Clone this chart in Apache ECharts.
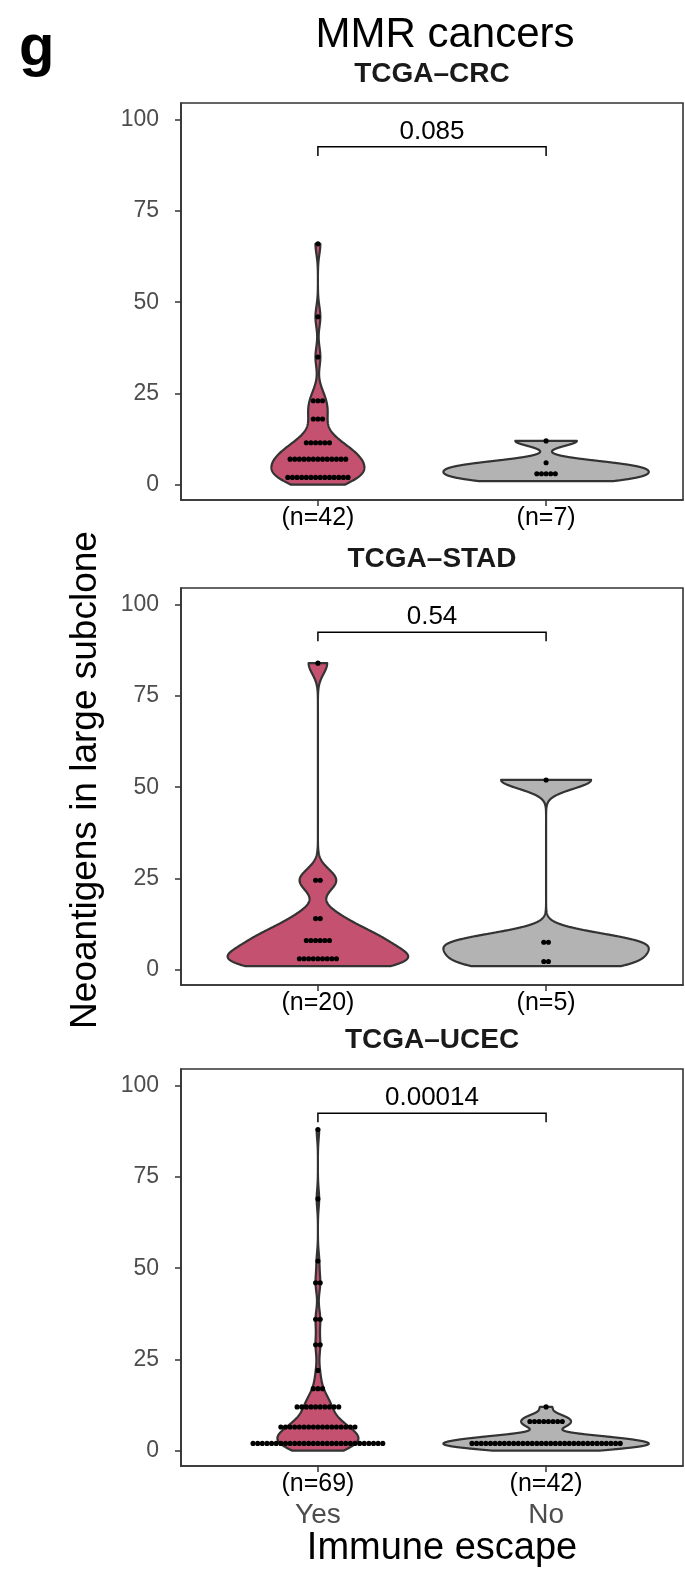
<!DOCTYPE html>
<html><head><meta charset="utf-8">
<script src="https://cdn.jsdelivr.net/npm/echarts@6/dist/echarts.min.js"></script>
<style>html,body{margin:0;padding:0;background:#fff}#c{width:685px;height:1577px}</style>
</head><body><div id="c"></div>
<script>
// ---------------- data ----------------
const categories = ['Yes', 'No'];
const panelTitles = ['TCGA\u2013CRC', 'TCGA\u2013STAD', 'TCGA\u2013UCEC'];
const pValues = ['0.085', '0.54', '0.00014'];
const yTicks = [0, 25, 50, 75, 100];
const bracketY = [92.6, 92.5, 92.5];
const bracketTip = [90.1, 90.0, 90.0];

const crcYes = [0,1,1,1,2,2,2,2,3,3,3,3,4,4, 5,5,6,6,6,7,7,7,8,8,8,9,9, 10,10,11,12,12,13, 16,18,20, 21,23,25, 35, 46, 66];
const crcNo = [1,2,3,4,5,6,12];
const stadYes = [1,1,2,2,2,3,3,4,5, 6,7,8,9,10,10, 13,15, 24,25, 84];
const stadNo = [1,3.5,6.5,8.5,52];
const ucecYes = [0,0,0, 1,1,1,1,1,1, 2,2,2,2,2,2,2,2, 3,3,3,3,3,3,3, 4,4,4,4,4,
  5,5,5,5,5, 6,6,6,6, 7,7,7,7, 8,8,8,8,
  10,10,11,11,12,12,13,13,14,14, 15,17,19, 22, 28,30, 35,37, 45,47, 52, 69, 88];
const ucecNo = [0,0,0,0, 1,1,1,1,1,1,1,1, 2,2,2,2,2,2,2,2,2, 3,3,3,3,3,3,3, 4,4,4,4,4,
  6,7,7,8,8,9,9,10, 12];

const panels = [[crcYes, crcNo], [stadYes, stadNo], [ucecYes, ucecNo]];

// ---------------- style / layout ----------------
const FONT = '"Liberation Sans", Arial, Helvetica, sans-serif';
const FILL = ['#C3516F', '#B3B3B3'];
const GRID_TOP = [103, 588, 1069];
const GRID_H = 397, GRID_LEFT = 181, GRID_W = 502;
const Y_MIN = -4.2, Y_MAX = 104.6;
const BINWIDTH = 5, DOT = 1.27;   // dotplot binning (data units)

// ---------------- helpers ----------------
function q7(s, p) { const h = (s.length - 1) * p, lo = Math.floor(h), hi = Math.ceil(h); return s[lo] + (h - lo) * (s[hi] - s[lo]); }
function bwNrd0(s) {
  const n = s.length, m = s.reduce((a, b) => a + b, 0) / n;
  const sd = Math.sqrt(s.reduce((a, b) => a + (b - m) * (b - m), 0) / (n - 1));
  let lo = Math.min(sd, (q7(s, 0.75) - q7(s, 0.25)) / 1.34);
  if (!(lo > 0)) lo = sd || Math.abs(s[0]) || 1;
  return 0.9 * lo * Math.pow(n, -0.2);
}
function kde(vals) {
  const s = vals.slice().sort((a, b) => a - b), bw = bwNrd0(s), n = s.length;
  const from = s[0], to = s[n - 1], N = 512, ys = [], ds = [];
  for (let k = 0; k < N; k++) {
    const y = from + (to - from) * k / (N - 1);
    let d = 0;
    for (const v of s) { const z = (y - v) / bw; d += Math.exp(-0.5 * z * z); }
    ys.push(y); ds.push(d / (n * bw * Math.sqrt(2 * Math.PI)));
  }
  return { y: ys, d: ds };
}
function dotBins(vals) {
  const s = vals.slice().sort((a, b) => a - b), bins = [];
  let end = -Infinity, cur = null;
  for (const v of s) { if (v >= end) { end = v + BINWIDTH; cur = []; bins.push(cur); } cur.push(v); }
  return bins.map(b => ({ c: (b[0] + b[b.length - 1]) / 2, n: b.length }));
}

const profiles = panels.map(groups => {
  const dens = groups.map(kde);
  const mx = Math.max(...dens.map(o => Math.max(...o.d)));
  return dens.map(o => ({ y: o.y, hw: o.d.map(d => 0.45 * d / mx) }));
});

const series = [], xAxis = [], yAxis = [], grid = [];
panels.forEach((groups, i) => {
  grid.push({ left: GRID_LEFT, top: GRID_TOP[i], width: GRID_W, height: GRID_H, show: true,
    borderColor: '#333333', borderWidth: 1.6, backgroundColor: '#fff' });
  const last = i === panels.length - 1;
  xAxis.push({
    type: 'value', gridIndex: i, min: 0.4, max: 2.6,
    splitLine: { show: false },
    axisLine: { show: true, onZero: false, lineStyle: { color: '#333333', width: 1.6 } },
    axisTick: { show: true, customValues: [1, 2], length: 6, lineStyle: { color: '#333333', width: 1.5 } },
    axisLabel: {
      customValues: [1, 2], margin: 5, fontFamily: FONT, color: '#000',
      formatter: v => {
        const g = Math.round(v) - 1; const t = '(n=' + groups[g].length + ')';
        return last ? '{n|' + t + '}\n{c|' + categories[g] + '}' : '{n|' + t + '}';
      },
      rich: {
        n: { fontSize: 25, color: '#000', fontFamily: FONT, lineHeight: 26 },
        c: { fontSize: 28, color: '#4D4D4D', fontFamily: FONT, lineHeight: 36 }
      }
    }
  });
  yAxis.push({
    type: 'value', gridIndex: i, min: Y_MIN, max: Y_MAX,
    splitLine: { show: false },
    axisLine: { show: true, onZero: false, lineStyle: { color: '#333333', width: 1.6 } },
    axisTick: { show: true, customValues: yTicks, length: 6, lineStyle: { color: '#333333', width: 1.5 } },
    axisLabel: { customValues: yTicks, margin: 22, fontSize: 23, color: '#4D4D4D', fontFamily: FONT }
  });
  // violins
  series.push({
    type: 'custom', xAxisIndex: i, yAxisIndex: i, silent: true,
    data: groups.map((g, k) => [k + 1, Math.min(...g), Math.max(...g)]),
    encode: { x: 0, y: [1, 2] },
    renderItem: (params, api) => {
      const p = profiles[i][params.dataIndex], xc = api.value(0), pts = [];
      for (let k = 0; k < p.y.length; k++) pts.push(api.coord([xc + p.hw[k], p.y[k]]));
      for (let k = p.y.length - 1; k >= 0; k--) pts.push(api.coord([xc - p.hw[k], p.y[k]]));
      return { type: 'polygon', shape: { points: pts },
        style: { fill: FILL[params.dataIndex], stroke: '#333333', lineWidth: 2.2, lineJoin: 'round' } };
    }
  });
  // dots
  const dots = [];
  groups.forEach((g, k) => dotBins(g).forEach(b => {
    for (let j = 0; j < b.n; j++) dots.push([k + 1, b.c, j - (b.n - 1) / 2]);
  }));
  series.push({
    type: 'custom', xAxisIndex: i, yAxisIndex: i, silent: true, data: dots,
    encode: { x: 0, y: 1 },
    renderItem: (params, api) => {
      const c = api.coord([api.value(0), api.value(1)]), d = api.size([0, DOT])[1];
      return { type: 'circle', shape: { cx: c[0] + api.value(2) * d, cy: c[1], r: d * 0.55 }, style: { fill: '#000' } };
    }
  });
  // significance bracket
  series.push({
    type: 'custom', xAxisIndex: i, yAxisIndex: i, silent: true,
    data: [[1, 2, bracketY[i], bracketTip[i]]],
    encode: { x: [0, 1], y: [2, 3] },
    renderItem: (params, api) => {
      const a = api.coord([api.value(0), api.value(3)]), b = api.coord([api.value(0), api.value(2)]);
      const c = api.coord([api.value(1), api.value(2)]), d = api.coord([api.value(1), api.value(3)]);
      return { type: 'group', children: [
        { type: 'polyline', shape: { points: [a, b, c, d] }, style: { stroke: '#000', lineWidth: 1.5, fill: null } },
        { type: 'text', x: (b[0] + c[0]) / 2, y: b[1] - 2,
          style: { text: pValues[i], fontSize: 26, fontFamily: FONT, fill: '#000', align: 'center', verticalAlign: 'bottom' } }
      ] };
    }
  });
});

const graphic = [
  { type: 'text', x: 19, y: 49, style: { text: 'g', fontSize: 58, fontWeight: 'bold', fontFamily: FONT, fill: '#000', align: 'left', verticalAlign: 'middle' } },
  { type: 'text', x: 445, y: 35, style: { text: 'MMR cancers', fontSize: 42, fontFamily: FONT, fill: '#000', align: 'center', verticalAlign: 'middle' } },
  { type: 'text', x: 86, y: 780, rotation: Math.PI / 2, style: { text: 'Neoantigens in large subclone', fontSize: 37, fontFamily: FONT, fill: '#000', align: 'center', verticalAlign: 'middle' } },
  { type: 'text', x: GRID_LEFT + GRID_W / 2 + 10, y: 1549, style: { text: 'Immune escape', fontSize: 38, fontFamily: FONT, fill: '#000', align: 'center', verticalAlign: 'middle' } }
];
panelTitles.forEach((t, i) => graphic.push({ type: 'text', x: GRID_LEFT + GRID_W / 2, y: GRID_TOP[i] - 29,
  style: { text: t, fontSize: 28, fontWeight: 'bold', fontFamily: FONT, fill: '#1a1a1a', align: 'center', verticalAlign: 'middle' } }));

const chart = echarts.init(document.getElementById('c'), null, { renderer: 'canvas', width: 685, height: 1577 });
chart.setOption({ animation: false, backgroundColor: '#fff', grid, xAxis, yAxis, series, graphic });
</script></body></html>
